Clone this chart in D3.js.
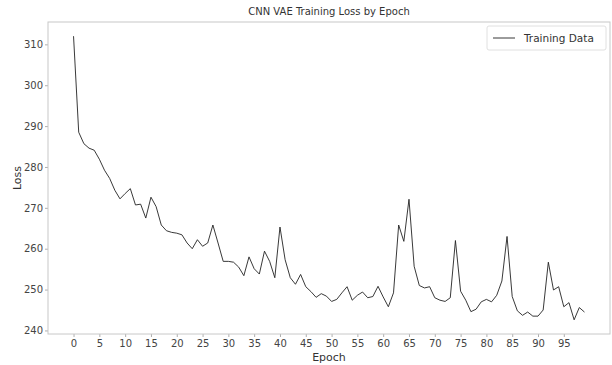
<!DOCTYPE html>
<html><head><meta charset="utf-8">
<script src="https://cdn.jsdelivr.net/npm/d3@7"></script>
<style>body{margin:0;background:#fff}text{font-family:"DejaVu Sans",sans-serif}</style>
</head><body>
<svg id="c" width="612" height="365"></svg>
<script>
const title = "CNN VAE Training Loss by Epoch";
const xLabel = "Epoch";
const yLabel = "Loss";
const seriesName = "Training Data";
const lossValues = [
312.0,288.5,285.7,284.6,284.1,281.9,279.2,277.2,274.3,272.2,
273.5,274.7,270.7,270.9,267.5,272.6,270.3,265.8,264.4,264.0,
263.8,263.4,261.4,260.0,262.2,260.6,261.4,265.8,261.4,256.9,
256.9,256.7,255.5,253.4,258.0,255.1,253.8,259.4,256.9,252.9,
265.3,257.3,252.9,251.3,253.7,250.7,249.5,248.1,249.0,248.4,
247.1,247.6,249.2,250.7,247.4,248.6,249.4,248.0,248.3,250.8,
248.2,245.8,249.2,265.8,261.8,272.1,255.7,251.0,250.4,250.7,
248.0,247.4,247.1,248.0,262.0,249.6,247.4,244.6,245.2,247.0,
247.6,247.0,248.6,252.1,263.0,248.3,244.8,243.7,244.5,243.5,
243.5,245.0,256.7,249.9,250.7,245.8,246.8,242.6,245.6,244.5];
const epochs = lossValues.map((_, i) => i);
const xTicks = d3.range(0, 100, 5);
const yTicks = [240, 250, 260, 270, 280, 290, 300, 310];

const svg = d3.select("#c");
const L = 48, R = 610, T = 22, B = 334;
const xmin = d3.min(epochs), xmax = d3.max(epochs);
const xpad = (xmax - xmin) * 0.05;
const ymin = d3.min(lossValues), ymax = d3.max(lossValues);
const ypad = (ymax - ymin) * 0.05;
const x = d3.scaleLinear().domain([xmin - xpad, xmax + xpad]).range([L, R]);
const y = d3.scaleLinear().domain([ymin - ypad, ymax + ypad]).range([B, T]);

const xAxis = svg.append("g").attr("transform", `translate(0,${B})`)
  .call(d3.axisBottom(x).tickValues(xTicks).tickSize(3).tickPadding(3));
const yAxis = svg.append("g").attr("transform", `translate(${L},0)`)
  .call(d3.axisLeft(y).tickValues(yTicks).tickSize(3).tickPadding(2));
[xAxis, yAxis].forEach(g => {
  g.select(".domain").remove();
  g.selectAll(".tick line").attr("stroke", "#999").attr("stroke-width", 0.8);
  g.selectAll(".tick text").attr("fill", "#444").style("font-size", "10px")
    .style("font-family", "DejaVu Sans");
});

svg.append("rect").attr("x", L).attr("y", T).attr("width", R - L).attr("height", B - T)
  .attr("fill", "none").attr("stroke", "#c8c8c8").attr("stroke-width", 1);

const line = d3.line().x((d, i) => x(epochs[i])).y(d => y(d));
svg.append("path").datum(lossValues).attr("d", line)
  .attr("fill", "none").attr("stroke", "#222").attr("stroke-width", 0.9)
  .attr("stroke-linejoin", "round");

svg.append("text").attr("x", (L + R) / 2).attr("y", 15).attr("text-anchor", "middle")
  .attr("fill", "#333").style("font-size", "10px").text(title);
svg.append("text").attr("x", (L + R) / 2).attr("y", 361).attr("text-anchor", "middle")
  .attr("fill", "#333").style("font-size", "11px").text(xLabel);
svg.append("text").attr("transform", `translate(21,${(T + B) / 2}) rotate(-90)`)
  .attr("text-anchor", "middle").attr("fill", "#333").style("font-size", "11px").text(yLabel);

const lg = svg.append("g");
lg.append("rect").attr("x", 487).attr("y", 26).attr("width", 119).attr("height", 24)
  .attr("rx", 2).attr("fill", "#fff").attr("stroke", "#e0e0e0");
lg.append("line").attr("x1", 493).attr("x2", 515).attr("y1", 38).attr("y2", 38)
  .attr("stroke", "#222").attr("stroke-width", 0.9);
lg.append("text").attr("x", 524).attr("y", 42).attr("fill", "#333")
  .style("font-size", "10.5px").text(seriesName);
</script>
</body></html>
